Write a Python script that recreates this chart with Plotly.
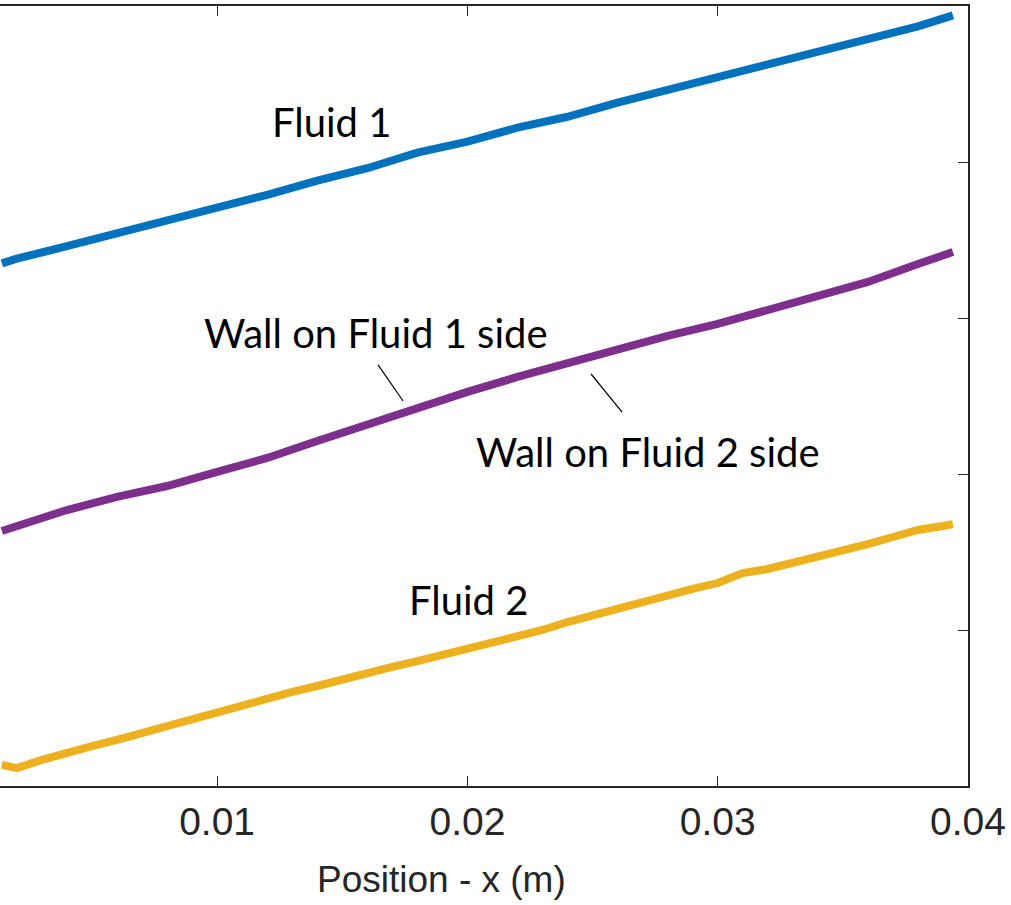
import plotly.graph_objects as go

# ---- data ----
x_blue = [0.0014, 0.002, 0.004, 0.006, 0.008, 0.010, 0.012, 0.014, 0.016, 0.018, 0.020,
          0.022, 0.024, 0.026, 0.028, 0.030, 0.032, 0.034, 0.036, 0.038, 0.0394]
fluid1 = [43.5, 43.8, 44.6, 45.4, 46.3, 47.1, 47.9, 48.8, 49.6, 50.6, 51.3,
          52.2, 52.9, 53.8, 54.6, 55.4, 56.3, 57.1, 57.8, 58.7, 59.4]

x_purple = [0.0014, 0.002, 0.004, 0.006, 0.008, 0.010, 0.012, 0.014, 0.016, 0.018, 0.020,
            0.022, 0.024, 0.026, 0.028, 0.030, 0.032, 0.034, 0.036, 0.038, 0.0394]
wall = [26.35, 26.67, 27.69, 28.53, 29.23, 30.13, 31.03, 32.12, 33.21, 34.23, 35.26,
        36.22, 37.12, 37.95, 38.85, 39.62, 40.51, 41.35, 42.31, 43.46, 44.23]

x_yellow = [0.0014, 0.002, 0.003, 0.004, 0.005, 0.006, 0.007, 0.008, 0.009, 0.010,
            0.011, 0.012, 0.013, 0.014, 0.015, 0.016, 0.017, 0.018, 0.019, 0.020,
            0.021, 0.022, 0.023, 0.024, 0.025, 0.026, 0.027, 0.028, 0.029, 0.030,
            0.031, 0.032, 0.033, 0.034, 0.035, 0.036, 0.037, 0.038, 0.039, 0.0394]
fluid2 = [11.35, 11.15, 11.67, 12.18, 12.56, 12.95, 13.40, 13.72, 14.23, 14.68,
          15.19, 15.58, 16.03, 16.41, 16.86, 17.18, 17.63, 18.01, 18.40, 18.78,
          19.29, 19.68, 20.00, 20.51, 20.96, 21.35, 21.73, 22.18, 22.63, 23.01,
          23.65, 23.91, 24.29, 24.68, 25.06, 25.51, 25.96, 26.41, 26.67, 26.79]

x_ticks = [0.01, 0.02, 0.03, 0.04]
x_ticklabels = ["0.01", "0.02", "0.03", "0.04"]
y_ticks = [20, 30, 40, 50]
x_title = "Position - x (m)"

labels = ["Fluid 1", "Wall on Fluid 1 side", "Wall on Fluid 2 side", "Fluid 2"]
label_x = [0.01459, 0.01635, 0.02721, 0.02006]
label_y = [52.56, 39.04, 31.41, 21.92]

leader_x0 = [0.01643, 0.02494]
leader_y0 = [36.99, 36.41]
leader_x1 = [0.01743, 0.02618]
leader_y1 = [34.68, 33.97]

AXC = "#262626"

fig = go.Figure()
fig.add_trace(go.Scatter(x=x_blue, y=fluid1, mode="lines",
                         line=dict(color="#0072BD", width=8), name="Fluid 1"))
fig.add_trace(go.Scatter(x=x_purple, y=wall, mode="lines",
                         line=dict(color="#7E2F8E", width=8), name="Wall"))
fig.add_trace(go.Scatter(x=x_yellow, y=fluid2, mode="lines",
                         line=dict(color="#EDB120", width=8), name="Fluid 2"))

for t, xx, yy in zip(labels, label_x, label_y):
    fig.add_annotation(x=xx, y=yy, text=t, showarrow=False,
                       xanchor="center", yanchor="middle",
                       font=dict(family="Lato", size=40, color="black"))

for a, b, c, d in zip(leader_x0, leader_y0, leader_x1, leader_y1):
    fig.add_shape(type="line", x0=a, y0=b, x1=c, y1=d, xref="x", yref="y",
                  line=dict(color="black", width=1.2))

# x-axis title (the full axis extends beyond the cropped left edge, so it sits left of centre)
fig.add_annotation(x=0.4556, y=-0.1205, xref="paper", yref="paper", text=x_title,
                   showarrow=False, xanchor="center", yanchor="middle",
                   font=dict(family="Liberation Sans, Arial, sans-serif", size=37, color=AXC))

fig.update_layout(
    width=1011, height=905,
    margin=dict(l=0, r=43, t=6, b=119),
    paper_bgcolor="white", plot_bgcolor="white",
    showlegend=False,
    font=dict(family="Liberation Sans, Arial, sans-serif", color=AXC),
)
fig.update_xaxes(
    range=[0.001326, 0.04], tickvals=x_ticks, ticktext=x_ticklabels,
    ticks="inside", ticklen=10, tickwidth=1.2, tickcolor=AXC,
    showline=True, linecolor=AXC, linewidth=1.5, mirror="ticks",
    showgrid=False, zeroline=False,
    tickfont=dict(size=39, color=AXC),
)
fig.update_yaxes(
    range=[10, 60], tickvals=y_ticks, side="right",
    ticks="inside", ticklen=10, tickwidth=1.2, tickcolor=AXC,
    showline=True, linecolor=AXC, linewidth=1.5,
    showticklabels=False, showgrid=False, zeroline=False,
)

fig.write_html("out.html")
